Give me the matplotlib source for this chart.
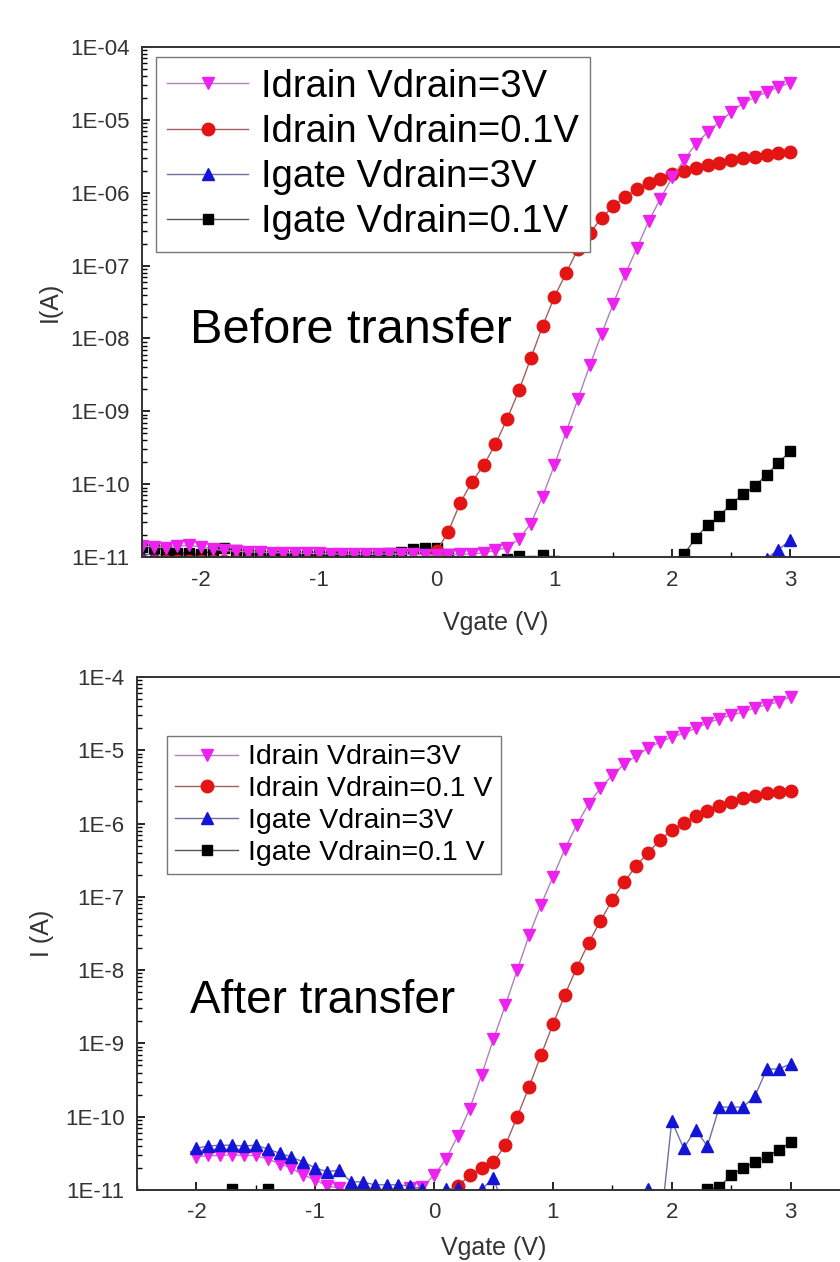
import numpy as np
import matplotlib.pyplot as plt
from matplotlib.ticker import LogLocator, MultipleLocator, NullFormatter

plt.rcParams["font.family"] = ["Liberation Sans", "DejaVu Sans"]

# ゲート電圧 (V)
vg_before = np.round(np.arange(-2.5, 3.05, 0.1), 1)
vg_after = np.round(np.arange(-2.0, 3.05, 0.1), 1)

# log10(I) 転写前  (-2.5 .. 3.0 V)
before_id3 = [
    -10.85, -10.86, -10.87, -10.85, -10.84, -10.86, -10.89, -10.91, -10.92, -10.93,
    -10.93, -10.94, -10.94, -10.94, -10.95, -10.95, -10.96, -10.96, -10.96, -10.96,
    -10.96, -10.96, -10.96, -10.96, -10.97, -10.97, -10.97, -10.96, -10.96, -10.94,
    -10.91, -10.87, -10.75, -10.54, -10.17, -9.74, -9.28, -8.83, -8.37, -7.94,
    -7.52, -7.12, -6.76, -6.39, -6.08, -5.79, -5.55, -5.33, -5.17, -5.03,
    -4.89, -4.77, -4.69, -4.62, -4.55, -4.49,
]
before_id01 = [
    -11.05, -11.05, -11.05, -11.05, -11.05, -11.05, -11.05, -11.05, -11.05, -11.05,
    -11.05, -11.05, -11.05, -11.05, -11.05, -11.05, -11.05, -11.05, -11.05, -11.05,
    -11.05, -11.05, -11.05, -11.05, -11.05, -10.92, -10.65, -10.26, -9.97, -9.74,
    -9.45, -9.10, -8.71, -8.27, -7.83, -7.43, -7.10, -6.77, -6.55, -6.35,
    -6.18, -6.06, -5.95, -5.87, -5.81, -5.74, -5.70, -5.66, -5.62, -5.59,
    -5.55, -5.52, -5.51, -5.48, -5.45, -5.44,
]
before_ig3 = [
    -10.97, -10.96, -10.97, -10.96, -10.97, -10.97, -11.3, -11.3, -11.3, -11.3,
    -11.3, -11.3, -11.3, -11.3, -11.3, -11.3, -11.3, -11.3, -11.3, -11.3,
    -11.3, -11.3, -11.3, -11.3, -11.3, -11.3, -11.3, -11.3, -11.3, -11.3,
    -11.3, -11.3, -11.3, -11.3, -11.3, -11.3, -11.3, -11.3, -11.3, -11.3,
    -11.3, -11.3, -11.3, -11.3, -11.3, -11.3, -11.3, -11.3, -11.3, -11.3,
    -11.3, -11.3, -11.3, -11.02, -10.90, -10.77,
]
before_ig01 = [
    -10.86, -10.87, -10.90, -10.94, -10.95, -10.96, -10.92, -10.88, -10.91, -10.95,
    -10.97, -10.98, -10.98, -10.98, -10.98, -10.97, -10.98, -10.99, -10.99, -10.99,
    -10.98, -10.94, -10.93, -10.89, -10.87, -10.88, -10.96, -11.05, -11.05, -11.05,
    -11.05, -11.02, -10.98, -11.05, -10.97, -11.05, -11.2, -11.2, -11.2, -11.2,
    -11.2, -11.2, -11.2, -11.2, -11.2, -11.2, -10.96, -10.74, -10.56, -10.44,
    -10.27, -10.14, -10.03, -9.87, -9.71, -9.55,
]

# log10(I) 転写後  (-2.0 .. 3.0 V)
after_id3 = [
    -10.55, -10.53, -10.53, -10.52, -10.53, -10.53, -10.58, -10.64, -10.70, -10.80,
    -10.86, -10.95, -10.97, -11.1, -11.1, -11.1, -11.1, -11.1, -10.98, -10.96,
    -10.80, -10.58, -10.26, -9.89, -9.43, -8.94, -8.48, -8.00, -7.52, -7.11,
    -6.73, -6.35, -6.02, -5.73, -5.52, -5.34, -5.19, -5.08, -4.97, -4.89,
    -4.82, -4.77, -4.70, -4.63, -4.57, -4.52, -4.48, -4.42, -4.38, -4.34,
    -4.27,
]
after_id01 = [
    -11.3, -11.3, -11.3, -11.3, -11.3, -11.3, -11.3, -11.3, -11.3, -11.3,
    -11.3, -11.3, -11.3, -11.3, -11.3, -11.3, -11.3, -11.3, -11.3, -11.3,
    -11.3, -11.3, -10.95, -10.80, -10.70, -10.62, -10.39, -10.00, -9.59, -9.16,
    -8.74, -8.34, -7.97, -7.63, -7.33, -7.04, -6.80, -6.58, -6.40, -6.23,
    -6.09, -5.99, -5.90, -5.83, -5.76, -5.71, -5.65, -5.62, -5.58, -5.57,
    -5.55,
]
after_ig3 = [
    -10.43, -10.40, -10.39, -10.39, -10.40, -10.39, -10.44, -10.50, -10.55, -10.62,
    -10.70, -10.75, -10.73, -10.89, -10.89, -10.93, -10.93, -10.93, -10.95, -10.99,
    -11.1, -10.99, -10.98, -11.1, -10.99, -10.84, -11.3, -11.3, -11.3, -11.3,
    -11.3, -11.3, -11.3, -11.3, -11.3, -11.3, -11.3, -11.3, -10.99, -11.6,
    -10.06, -10.43, -10.18, -10.40, -9.87, -9.87, -9.87, -9.72, -9.35, -9.35,
    -9.28,
]
after_ig01 = [
    -11.3, -11.3, -11.3, -10.99, -11.3, -11.3, -10.99, -11.3, -11.3, -11.3,
    -11.3, -11.3, -11.3, -11.3, -11.3, -11.3, -11.3, -11.3, -11.3, -11.3,
    -11.3, -11.3, -11.3, -11.3, -11.3, -11.3, -11.3, -11.3, -11.3, -11.3,
    -11.3, -11.3, -11.3, -11.3, -11.3, -11.3, -11.3, -11.3, -11.3, -11.3,
    -11.3, -11.3, -11.3, -10.99, -10.96, -10.80, -10.70, -10.62, -10.55, -10.45,
    -10.35,
]

labels_before = ["Idrain Vdrain=3V", "Idrain Vdrain=0.1V",
                 "Igate Vdrain=3V", "Igate Vdrain=0.1V"]
labels_after = ["Idrain Vdrain=3V", "Idrain Vdrain=0.1 V",
                "Igate Vdrain=3V", "Igate Vdrain=0.1 V"]
yticks_before = ["1E-11", "1E-10", "1E-09", "1E-08", "1E-07", "1E-06", "1E-05", "1E-04"]
yticks_after = ["1E-11", "1E-10", "1E-9", "1E-8", "1E-7", "1E-6", "1E-5", "1E-4"]
xticks = [-2, -1, 0, 1, 2, 3]

# マーカー, 塗り色, 線色, サイズ
styles = [
    ("v", "#ee22ee", "#b080b8", 9),
    ("o", "#e41414", "#a06060", 9),
    ("^", "#1414d8", "#7070a0", 9),
    ("s", "#000000", "#555555", 7),
]

fig = plt.figure(figsize=(8.4, 12.62), dpi=100)
ax1 = fig.add_axes([0.1690, 0.5586, 0.8417, 0.4041])
ax2 = fig.add_axes([0.1631, 0.0571, 0.8488, 0.4065])


def draw(ax, vg, series, labels, ylabels, zorders, xpad):
    for logi, lab, (m, fc, lc, ms), z in zip(series, labels, styles, zorders):
        ax.plot(vg, 10.0 ** np.array(logi), color=lc, lw=1.0, marker=m,
                markersize=ms, markerfacecolor=fc, markeredgecolor=fc,
                label=lab, zorder=z)
    ax.set_yscale("log")
    ax.set_xlim(-2.5, 3.5)
    ax.set_ylim(1e-11, 1e-4)
    ax.set_yticks([10.0 ** k for k in range(-11, -3)])
    ax.set_yticklabels(ylabels)
    ax.yaxis.set_minor_locator(LogLocator(base=10, subs=np.arange(2, 10)))
    ax.yaxis.set_minor_formatter(NullFormatter())
    ax.set_xticks(xticks)
    ax.set_xticklabels([str(t) for t in xticks])
    ax.xaxis.set_minor_locator(MultipleLocator(0.5))
    ax.tick_params(which="major", direction="in", length=6, width=1.2,
                   labelsize=16, labelcolor="#333333", pad=9)
    ax.tick_params(which="minor", direction="in", length=3.5, width=1.0)
    for s in ax.spines.values():
        s.set_linewidth(1.4)
        s.set_color("#333333")
        s.set_zorder(10)
    ax.set_xlabel("Vgate (V)", fontsize=18, color="#333333", labelpad=xpad)


draw(ax1, vg_before, [before_id3, before_id01, before_ig3, before_ig01],
     labels_before, yticks_before, [5, 4, 2, 3], 15)
ax1.set_ylabel("I(A)", fontsize=18, color="#333333", labelpad=6)
ax1.text(0.068, 0.42, "Before transfer", transform=ax1.transAxes,
         fontsize=35, va="baseline", ha="left")
ax1.legend(loc="upper left", bbox_to_anchor=(0.0198, 0.980), borderaxespad=0,
           fontsize=27.5, fancybox=False, edgecolor="#777777", framealpha=1,
           handlelength=2.1, handletextpad=0.35, labelspacing=0.24, borderpad=0.3)

draw(ax2, vg_after, [after_id3, after_id01, after_ig3, after_ig01],
     labels_after, yticks_after, [4, 3, 5, 2], 9)
ax2.set_ylabel("I (A)", fontsize=18, color="#333333", labelpad=8)
ax2.text(0.074, 0.345, "After transfer", transform=ax2.transAxes,
         fontsize=33, va="baseline", ha="left")
ax2.legend(loc="upper left", bbox_to_anchor=(0.042, 0.885), borderaxespad=0,
           fontsize=20.5, fancybox=False, edgecolor="#777777", framealpha=1,
           handlelength=2.2, handletextpad=0.35, labelspacing=0.2, borderpad=0.3)

fig.savefig("out.png", dpi=100)
